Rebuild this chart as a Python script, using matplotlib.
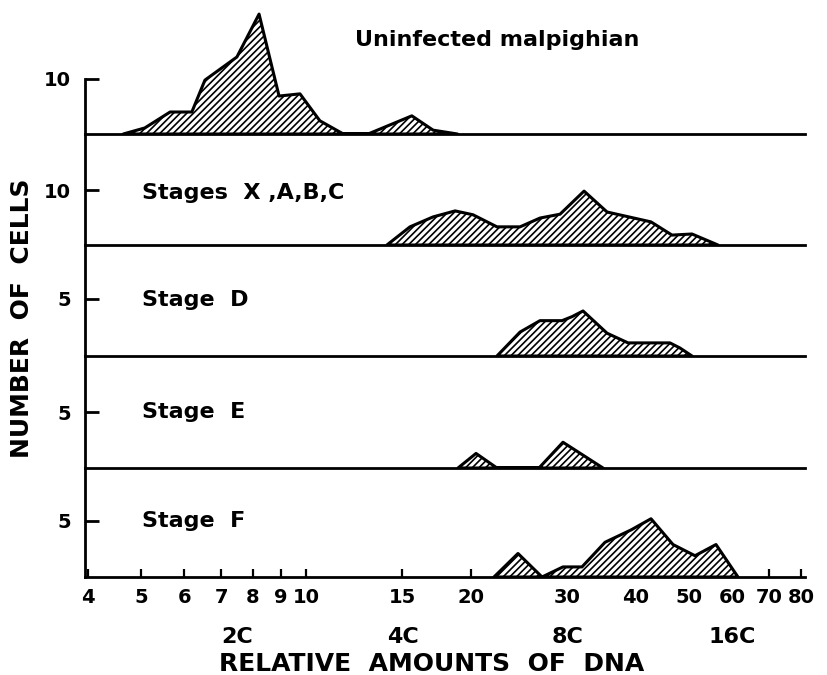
import matplotlib
matplotlib.use("Agg")
import matplotlib.pyplot as plt
import matplotlib.transforms as mtransforms

plt.rcParams['font.family'] = ['DejaVu Sans']
plt.rcParams['hatch.linewidth'] = 1.2

# ---- data (relative DNA amount, number of cells) ----
uninf_x = [4.64, 5.08, 5.65, 6.19, 6.54, 7.48, 8.21, 8.93, 9.75, 10.6, 11.7, 12.98, 15.6, 17.06, 18.9]
uninf_y = [0, 1.1, 4.0, 4.0, 9.8, 14.0, 21.8, 6.9, 7.3, 2.4, 0, 0, 3.3, 0.7, 0]

xabc_x = [14.05, 15.48, 17.05, 18.71, 20.17, 22.31, 24.58, 26.73, 29.08, 32.17, 35.43, 38.86, 42.62, 46.55, 50.63, 56.47]
xabc_y = [0, 3.3, 5.1, 6.2, 5.5, 3.3, 3.3, 4.9, 5.6, 9.8, 6.0, 5.1, 4.2, 1.8, 2.0, 0]

d_x = [22.31, 24.58, 26.73, 29.32, 30.58, 32.03, 35.43, 38.7, 46.15, 48.14, 50.63]
d_y = [0, 2.1, 3.1, 3.1, 3.45, 3.95, 2.0, 1.15, 1.15, 0.7, 0]

e_x = [18.94, 20.43, 22.31, 26.62, 29.44, 34.83]
e_y = [0, 1.3, 0, 0, 2.3, 0]

f_x = [22.03, 24.37, 26.96, 29.44, 31.89, 35.13, 39.18, 42.62, 46.74, 51.27, 56.0, 61.42]
f_y = [0, 2.1, 0, 0.9, 0.9, 3.1, 4.2, 5.2, 2.9, 1.9, 2.9, 0]

panel_labels = ["Uninfected malpighian", "Stages  X ,A,B,C", "Stage  D", "Stage  E", "Stage  F"]
y_ticks = [[10], [10], [5], [5], [5]]
x_ticks = [4, 5, 6, 7, 8, 9, 10, 15, 20, 30, 40, 50, 60, 70, 80]
x_ticklabels = ["4", "5", "6", "7", "8", "9", "10", "15", "20", "30", "40", "50", "60", "70", "80"]
c_values = [7.5, 15, 30, 60]
c_labels = ["2C", "4C", "8C", "16C"]

series = [(uninf_x, uninf_y), (xabc_x, xabc_y), (d_x, d_y), (e_x, e_y), (f_x, f_y)]

# ---- layout (figure pixels 828 x 675) ----
W, H = 828, 675
left_px, right_px = 85, 805
# (top_px, bottom_px, ymax)
panels = [(0, 134, 134 / 5.5),
          (134, 245, 111 / 5.5),
          (245, 356, 111 / 11.4),
          (356, 468, 112 / 11.2),
          (468, 577, 109 / 11.2)]
label_pos = [(355, 40), (142, 193), (142, 300), (142, 412), (142, 521)]

fig = plt.figure(figsize=(W / 100, H / 100), dpi=100)
xmin, xmax = 3.951, 81.4

axes = []
for i, ((top, bot, ymax), (xs, ys)) in enumerate(zip(panels, series)):
    ax = fig.add_axes([left_px / W, (H - bot) / H, (right_px - left_px) / W, (bot - top) / H])
    ax.set_xscale('log')
    ax.set_xlim(xmin, xmax)
    ax.set_ylim(0, ymax)
    ax.patch.set_alpha(0)
    ax.fill_between(xs, ys, 0, facecolor='white', edgecolor='black',
                    hatch='/////', linewidth=2.2, zorder=2)
    for s in ['top', 'right']:
        ax.spines[s].set_visible(False)
    ax.spines['left'].set_linewidth(2)
    ax.spines['bottom'].set_linewidth(2)
    if i == 0:
        ax.spines['left'].set_bounds(0, 10)
    ax.set_yticks(y_ticks[i])
    ax.tick_params(axis='y', direction='in', length=10, width=2, pad=10,
                   labelsize=14)
    for t in ax.get_yticklabels():
        t.set_fontweight('bold')
    ax.minorticks_off()
    if i < 4:
        ax.set_xticks([])
    else:
        ax.set_xticks(x_ticks)
        ax.set_xticklabels(x_ticklabels, fontweight='bold')
        ax.tick_params(axis='x', direction='in', length=6, width=1.6, pad=8,
                       labelsize=14)
    lx, ly = label_pos[i]
    fig.text(lx / W, 1 - ly / H, panel_labels[i], fontsize=16, fontweight='bold',
             ha='left', va='center')
    axes.append(ax)

# C labels under the axis
axb = axes[-1]
trans = mtransforms.blended_transform_factory(axb.transData, fig.transFigure)
for v, lab in zip(c_values, c_labels):
    axb.text(v, 1 - 637 / H, lab, transform=trans, fontsize=16, fontweight='bold',
             ha='center', va='center')

fig.text(432 / W, 1 - 664 / H, "RELATIVE  AMOUNTS  OF  DNA", fontsize=18,
         fontweight='bold', ha='center', va='center')
fig.text(22 / W, 1 - 318 / H, "NUMBER  OF  CELLS", fontsize=18, fontweight='bold',
         ha='center', va='center', rotation=90)

fig.savefig("out.png", dpi=100)
